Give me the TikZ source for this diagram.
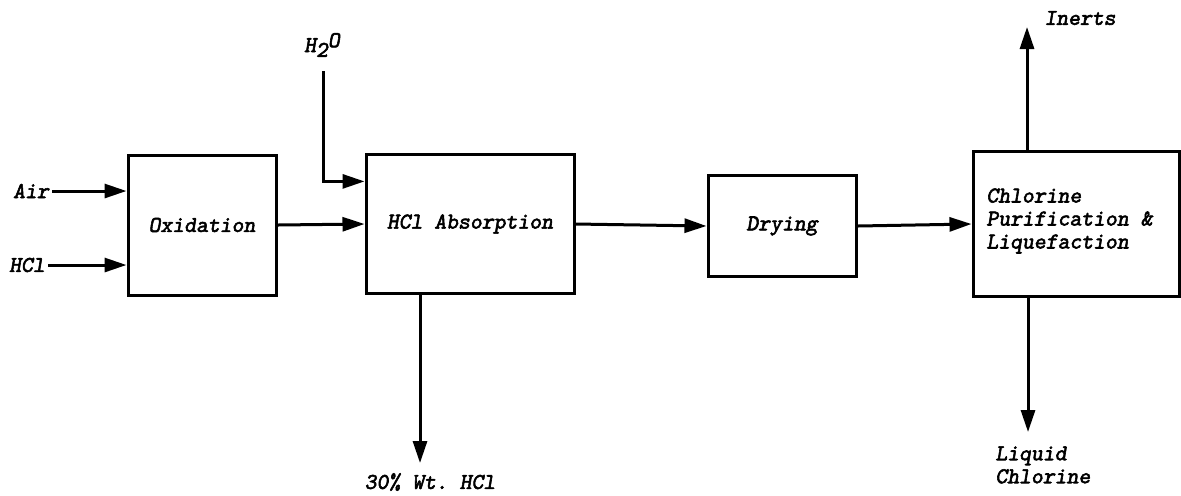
\documentclass[tikz,border=0pt]{standalone}
\usepackage{fontspec}
\newfontfamily\lmsl[FakeBold=2.5]{lmmonoslant10-regular.otf}
\usetikzlibrary{arrows.meta,calc}
\begin{document}
\begin{tikzpicture}[x=0.5pt,y=-0.5pt,
  every node/.style={font=\lmsl\fontsize{11.3}{11.5}\selectfont, inner sep=0pt},
  blk/.style={draw, line width=1.5pt, rectangle},
  arr/.style={line width=1.5pt, -{Triangle[length=11pt,width=7pt]}}]
\useasboundingbox (0,0) rectangle (1181,495);
% boxes
\node[blk, minimum width=74pt, minimum height=70pt] (ox) at (202,225) {Oxidation};
\node[blk, minimum width=104pt, minimum height=69.5pt] (ab) at (470,224) {HCl Absorption};
\node[blk, minimum width=74pt, minimum height=50.5pt] (dr) at (782,226) {Drying};
\node[blk, minimum width=103pt, minimum height=72.5pt] (cl) at (1076,224) {};
\node[anchor=north west, align=left] (cltext) at (986,188) {Chlorine\\Purification \&\\Liquefaction};
% labels
\node (air) at (31,191) {Air};
\node (hcl) at (27,265) {HCl};
\node (h2o) at (322,45) {H\raisebox{-0.5ex}{2}\raisebox{0.5ex}{O}};
\node (wt) at (430,482) {30\% Wt.\ HCl};
\node (inerts) at (1080,18) {Inerts};
\node[anchor=north west, align=left] (liq) at (995,446) {Liquid\\Chlorine};
% coordinates
\coordinate (h2oin) at (323,71);
\coordinate (abo) at (420,463);
\coordinate (inc) at (1027,27);
\coordinate (liqc) at (1028,432);
% connectors
\draw[arr] ($(air.east)+(3,0)$) -- (air -| ox.west);
\draw[arr] ($(hcl.east)+(3,0)$) -- (hcl -| ox.west);
\draw[arr] (ox.east) -- (ab.west);
\draw[arr] (h2oin) |- ($(ab.north west)!0.2!(ab.south west)$);
\draw[arr] (abo |- ab.south) -- (abo);
\draw[arr] (ab.east) -- (dr.west);
\draw[arr] (dr.east) -- (cl.west);
\draw[arr] (inc |- cl.north) -- (inc);
\draw[arr] (liqc |- cl.south) -- (liqc);
\end{tikzpicture}
\end{document}
